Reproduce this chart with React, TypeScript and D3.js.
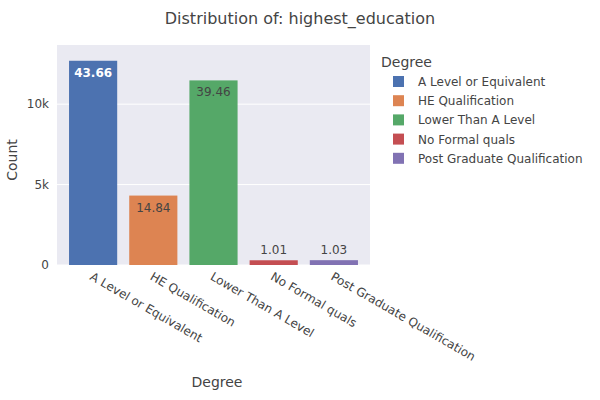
import React from "react";
import * as d3 from "d3";

const categories = ["A Level or Equivalent", "HE Qualification", "Lower Than A Level", "No Formal quals", "Post Graduate Qualification"];
const counts = [12700, 4317, 11479, 294, 300];
const pctLabels = ["43.66", "14.84", "39.46", "1.01", "1.03"];
const colors = ["#4C72B0", "#DD8452", "#55A868", "#C44E52", "#8172B3"];
const yTicks = [0, 5000, 10000];
const yTickLabels = ["0", "5k", "10k"];

export default function App() {
  const L = 57, R = 370, T = 45, B = 265;
  const x = d3.scaleBand().domain(categories).range([L, R]).padding(0.2);
  const y = d3.scaleLinear().domain([0, 13680]).range([B, T]);
  const font = "'DejaVu Sans', sans-serif";
  return (
    <svg width={600} height={400} style={{ position: "absolute", left: 0, top: 0 }} fontFamily={font}>
      <rect width={600} height={400} fill="#fff" />
      <rect x={L} y={T} width={R - L} height={B - T} fill="#EAEAF2" />
      {yTicks.map((t, i) => (
        <g key={t}>
          <line x1={L} x2={R} y1={y(t)} y2={y(t)} stroke="#fff" strokeWidth={1} />
          <text x={L - 8} y={y(t) + 4} textAnchor="end" fontSize={12} fill="#444">{yTickLabels[i]}</text>
        </g>
      ))}
      {categories.map((c, i) => {
        const bx = x(c)!, bw = x.bandwidth(), by = y(counts[i]);
        const inside = B - by > 30;
        return (
          <g key={c}>
            <rect x={bx} y={by} width={bw} height={B - by} fill={colors[i]} />
            <text x={bx + bw / 2} y={inside ? by + 16 : by - 6} textAnchor="middle" fontSize={12}
              fill={i === 0 ? "#fff" : "#444"} fontWeight={i === 0 ? "bold" : "normal"}>{pctLabels[i]}</text>
            <text transform={`translate(${bx + bw / 2 - 4},${B + 14}) rotate(30)`} fontSize={12} fill="#444">{c}</text>
          </g>
        );
      })}
      <text x={300} y={24} textAnchor="middle" fontSize={16} fill="#444">Distribution of: highest_education</text>
      <text x={217} y={387} textAnchor="middle" fontSize={14} fill="#444">Degree</text>
      <text transform={`translate(17,${(T + B) / 2 + 5}) rotate(-90)`} textAnchor="middle" fontSize={14} fill="#444">Count</text>
      <text x={381} y={67} fontSize={14} fill="#444">Degree</text>
      {categories.map((c, i) => (
        <g key={c}>
          <rect x={393} y={76 + i * 19.2} width={11} height={11} fill={colors[i]} />
          <text x={418} y={86 + i * 19.2} fontSize={12} fill="#444">{c}</text>
        </g>
      ))}
    </svg>
  );
}
